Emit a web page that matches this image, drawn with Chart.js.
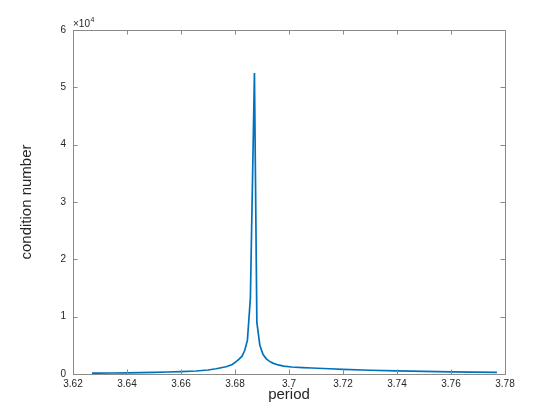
<!DOCTYPE html>
<html>
<head>
<meta charset="utf-8">
<script src="https://cdn.jsdelivr.net/npm/chart.js@4"></script>
<style>
  html, body { margin: 0; padding: 0; background: #fff; }
  #wrap { width: 560px; height: 420px; }
</style>
</head>
<body>
<div id="wrap"><canvas id="c" width="560" height="420"></canvas></div>
<script>
// Data
const periods = [
  3.6270, 3.6350, 3.6400, 3.6450, 3.6500, 3.6550, 3.6600, 3.6656, 3.6700, 3.6730,
  3.6767, 3.6790, 3.6804, 3.6815, 3.6826, 3.6836, 3.6846, 3.6857, 3.6872, 3.6881,
  3.6892, 3.6904, 3.6916, 3.6928, 3.6940, 3.6960, 3.6980, 3.7010, 3.7050, 3.7085,
  3.7150, 3.7200, 3.7300, 3.7400, 3.7500, 3.7600, 3.7680, 3.7770
];
const condNumbers = [
  140, 175, 205, 245, 290, 350, 430, 520, 700, 920,
  1270, 1650, 2150, 2600, 3100, 4100, 5900, 13250, 52500, 9000,
  5000, 3400, 2650, 2200, 1900, 1580, 1380, 1220, 1110, 1050,
  920, 800, 650, 530, 450, 380, 340, 300
];
const xTicks = [3.62, 3.64, 3.66, 3.68, 3.70, 3.72, 3.74, 3.76, 3.78];
const xTickLabels = ['3.62', '3.64', '3.66', '3.68', '3.7', '3.72', '3.74', '3.76', '3.78'];
const yTicks = [0, 10000, 20000, 30000, 40000, 50000, 60000];
const yTickLabels = ['0', '1', '2', '3', '4', '5', '6'];
const xLabel = 'period';
const yLabel = 'condition number';
const yExponent = '4';

const points = periods.map((p, i) => ({ x: p, y: condNumbers[i] }));

const FONT = "'Liberation Sans', Arial, Helvetica, sans-serif";
const AXIS_COLOR = '#8a8a8a';
const TEXT_COLOR = '#262626';

const boxPlugin = {
  id: 'matlabBox',
  afterDraw(chart) {
    const { ctx, chartArea: a, scales } = chart;
    ctx.save();
    ctx.strokeStyle = AXIS_COLOR;
    ctx.lineWidth = 1;
    ctx.strokeRect(Math.round(a.left) + 0.5, Math.round(a.top) + 0.5,
                   Math.round(a.right - a.left), Math.round(a.bottom - a.top));
    const tl = 4.5;
    ctx.beginPath();
    xTicks.forEach(v => {
      const px = Math.round(scales.x.getPixelForValue(v)) + 0.5;
      ctx.moveTo(px, a.bottom); ctx.lineTo(px, a.bottom - tl);
      ctx.moveTo(px, a.top); ctx.lineTo(px, a.top + tl);
    });
    yTicks.forEach(v => {
      const py = Math.round(scales.y.getPixelForValue(v)) + 0.5;
      ctx.moveTo(a.left, py); ctx.lineTo(a.left + tl, py);
      ctx.moveTo(a.right, py); ctx.lineTo(a.right - tl, py);
    });
    ctx.stroke();
    // exponent label
    ctx.fillStyle = TEXT_COLOR;
    ctx.textBaseline = 'alphabetic';
    ctx.textAlign = 'left';
    ctx.font = '10px ' + FONT;
    const base = '\u00d710';
    ctx.fillText(base, a.left, a.top - 3);
    const w = ctx.measureText(base).width;
    ctx.font = '7px ' + FONT;
    ctx.fillText(yExponent, a.left + w + 0.5, a.top - 8);
    ctx.restore();
  }
};

new Chart(document.getElementById('c'), {
  type: 'line',
  data: {
    datasets: [{
      data: points,
      borderColor: '#0072BD',
      borderWidth: 1.7,
      pointRadius: 0,
      tension: 0,
      fill: false
    }]
  },
  options: {
    responsive: false,
    animation: false,
    devicePixelRatio: 1,
    layout: { padding: { left: 0, top: 30, right: 55, bottom: 0 } },
    plugins: { legend: { display: false }, tooltip: { enabled: false } },
    scales: {
      x: {
        type: 'linear',
        min: 3.62, max: 3.78,
        afterBuildTicks: s => { s.ticks = xTicks.map(v => ({ value: v })); },
        afterFit: s => { s.height = 46; },
        grid: { display: false, drawTicks: false },
        border: { display: false },
        ticks: {
          padding: 4,
          color: TEXT_COLOR,
          font: { family: FONT, size: 10 },
          maxRotation: 0,
          autoSkip: false,
          callback: (v, i) => xTickLabels[i]
        },
        title: {
          display: true, text: xLabel, color: TEXT_COLOR,
          font: { family: FONT, size: 15 },
          padding: { top: 0, bottom: 16 }
        }
      },
      y: {
        type: 'linear',
        min: 0, max: 60000,
        afterBuildTicks: s => { s.ticks = yTicks.map(v => ({ value: v })); },
        afterFit: s => { s.width = 73; },
        grid: { display: false, drawTicks: false },
        border: { display: false },
        ticks: {
          padding: 7,
          color: TEXT_COLOR,
          font: { family: FONT, size: 10 },
          autoSkip: false,
          callback: (v, i) => yTickLabels[i]
        },
        title: {
          display: true, text: yLabel, color: TEXT_COLOR,
          font: { family: FONT, size: 15 },
          padding: { top: 18, bottom: 0 }
        }
      }
    }
  },
  plugins: [boxPlugin]
});
</script>
</body>
</html>
